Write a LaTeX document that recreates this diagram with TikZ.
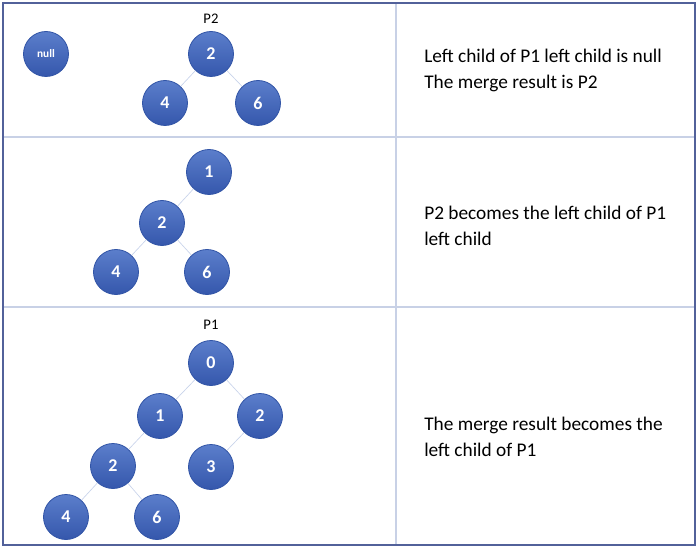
\documentclass[tikz,border=0pt]{standalone}
\usepackage{fontspec}
\setmainfont{Carlito}
\definecolor{frameblue}{HTML}{52619A}
\definecolor{gridblue}{HTML}{C8D1E6}
\definecolor{edgeblue}{HTML}{C8D3EA}
\definecolor{ballTop}{HTML}{5B7ECB}
\definecolor{ballBot}{HTML}{3557AC}
\definecolor{ballRim}{HTML}{3154A6}
\tikzset{
  ball/.style={circle, minimum size=45*0.75pt, inner sep=0pt, draw=ballRim, line width=0.6pt,
    top color=ballTop, bottom color=ballBot, text=white, font=\bfseries\fontsize{13.5}{13.5}\selectfont},
  link/.style={draw=edgeblue, line width=0.5pt},
  tag/.style={inner sep=0.75pt, font=\fontsize{11}{11}\selectfont},
  caption/.style={anchor=west, inner sep=0.75pt, align=left, font=\fontsize{14.5}{19.5}\selectfont}
}
\begin{document}
\begin{tikzpicture}[x=0.75pt,y=0.75pt,yscale=-1,xscale=1]
\useasboundingbox (0,0) rectangle (700,549);

%Table lines
\draw[gridblue, line width=0.8pt] (3,137) -- (695,137) ;
\draw[gridblue, line width=0.8pt] (3,307) -- (695,307) ;
\draw[gridblue, line width=0.8pt] (396,3) -- (396,545) ;
\draw[frameblue, line width=1pt] (3,3) rectangle (695,545) ;

%Row 1
\node[ball, font=\bfseries\fontsize{8.5}{8.5}\selectfont] (nl) at (46,54) {null};
\node[ball] (a2) at (211,54) {2};
\node[ball] (a4) at (165,103) {4};
\node[ball] (a6) at (258,103) {6};
\node[tag] (lp2) at (211,19) {P2};
\path[link] (a2) -- (a4) (a2) -- (a6) ;

%Row 2
\node[ball] (b1) at (209,172) {1};
\node[ball] (b2) at (162,223) {2};
\node[ball] (b4) at (116,272) {4};
\node[ball] (b6) at (207,272) {6};
\path[link] (b1) -- (b2) (b2) -- (b4) (b2) -- (b6) ;

%Row 3
\node[tag] (lp1) at (211,325) {P1};
\node[ball] (c0) at (211,363) {0};
\node[ball] (c1) at (160,416) {1};
\node[ball] (c2) at (260,416) {2};
\node[ball] (c3) at (211,467) {3};
\node[ball] (c22) at (113,466) {2};
\node[ball] (c4) at (66,517) {4};
\node[ball] (c6) at (157,517) {6};
\path[link] (c0) -- (c1) (c0) -- (c2) (c2) -- (c3) (c1) -- (c22) (c22) -- (c4) (c22) -- (c6) ;

% Text Node
\node[caption] (t1) at (423,70) {Left child of P1 left child is null\\The merge result is P2};
% Text Node
\node[caption] (t2) at (423,226) {P2 becomes the left child of P1\\left child};
% Text Node
\node[caption] (t3) at (423,437) {The merge result becomes the\\left child of P1};

\end{tikzpicture}
\end{document}
